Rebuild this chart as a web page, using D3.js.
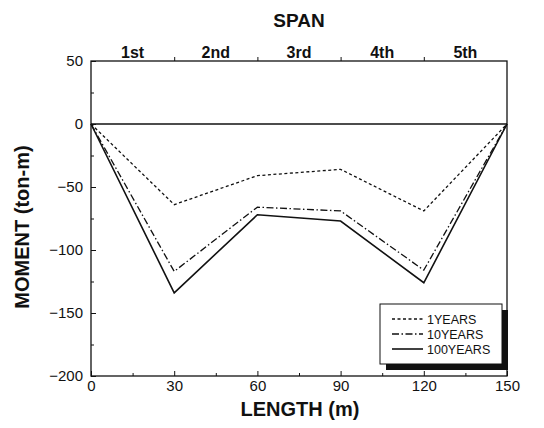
<!DOCTYPE html>
<html><head><meta charset="utf-8">
<script src="https://cdn.jsdelivr.net/npm/d3@7"></script>
<style>body{margin:0;background:#fff}svg{display:block}text{font-family:Arial,"Liberation Sans",sans-serif;fill:#111}</style>
</head><body><div id="chart"></div>
<script>
const lengths = [0, 30, 60, 90, 120, 150];
const years1 = [0, -64, -41, -36, -69, 0];
const years10 = [0, -117, -66, -69, -116, 0];
const years100 = [0, -134, -72, -77, -126, 0];
const seriesNames = ["1YEARS", "10YEARS", "100YEARS"];
const spanLabels = ["1st", "2nd", "3rd", "4th", "5th"];
const xTicks = [0, 30, 60, 90, 120, 150];
const yTicks = [50, 0, -50, -100, -150, -200];

const W = 544, H = 428;
const L = 91, R = 507, T = 61, B = 376;
const svg = d3.select("#chart").append("svg").attr("width", W).attr("height", H);
const x = d3.scaleLinear().domain([0, 150]).range([L, R]);
const y = d3.scaleLinear().domain([-200, 50]).range([B, T]);

// frame
svg.append("rect").attr("x", L).attr("y", T).attr("width", R - L).attr("height", B - T)
  .attr("fill", "none").attr("stroke", "#111").attr("stroke-width", 1.3);

// zero line
svg.append("line").attr("x1", x(0)).attr("x2", x(150)).attr("y1", y(0)).attr("y2", y(0))
  .attr("stroke", "#111").attr("stroke-width", 1.5);

// left axis
const yAxis = d3.axisLeft(y).tickValues(yTicks).tickSize(-5).tickPadding(8).tickFormat(d3.format("d"));
const ga = svg.append("g").attr("transform", `translate(${L},0)`).call(yAxis);
ga.select(".domain").remove();
ga.selectAll("text").style("font-size", "15px");
const yMinor = d3.axisLeft(y).tickValues([25, -25, -75, -125, -175]).tickSize(-3).tickFormat("");
svg.append("g").attr("transform", `translate(${L},0)`).call(yMinor).select(".domain").remove();

// bottom axis
const xAxis = d3.axisBottom(x).tickValues(xTicks).tickSize(-5).tickPadding(4);
const gb = svg.append("g").attr("transform", `translate(0,${B})`).call(xAxis);
gb.select(".domain").remove();
gb.selectAll("text").style("font-size", "15px");
const xMinor = d3.axisBottom(x).tickValues([15, 45, 75, 105, 135]).tickSize(-3).tickFormat("");
svg.append("g").attr("transform", `translate(0,${B})`).call(xMinor).select(".domain").remove();

// top span axis
const xTop = d3.axisTop(x).tickValues([30, 60, 90, 120]).tickSize(4).tickFormat("");
svg.append("g").attr("transform", `translate(0,${T})`).call(xTop).select(".domain").remove();
svg.selectAll(".tick line").attr("stroke", "#111");
svg.append("g").selectAll("text").data(spanLabels).join("text")
  .attr("x", (d, i) => x(i * 30 + 15)).attr("y", 58)
  .attr("text-anchor", "middle").style("font-size", "16px").style("font-weight", "bold").text(d => d);

// titles
svg.append("text").attr("x", (L + R) / 2).attr("y", 27).attr("text-anchor", "middle")
  .style("font-size", "19px").style("font-weight", "bold").text("SPAN");
svg.append("text").attr("x", 300).attr("y", 416).attr("text-anchor", "middle")
  .style("font-size", "20px").style("font-weight", "bold").text("LENGTH (m)");
svg.append("text").attr("transform", `translate(29,227) rotate(-90)`).attr("text-anchor", "middle")
  .style("font-size", "20px").style("font-weight", "bold").text("MOMENT (ton-m)");

// lines
const styles = [
  { data: years1, dash: "3,2.5", w: 1.3 },
  { data: years10, dash: "7,2.5,1.5,2.5", w: 1.3 },
  { data: years100, dash: null, w: 1.6 }
];
const line = d3.line().x((d, i) => x(lengths[i])).y(d => y(d));
styles.forEach(s => {
  svg.append("path").datum(s.data).attr("d", line).attr("fill", "none")
    .attr("stroke", "#111").attr("stroke-width", s.w).attr("stroke-dasharray", s.dash);
});

// legend
const lx = 380, ly = 304, lw = 122, lh = 60;
svg.append("rect").attr("x", lx + 6).attr("y", ly + 6).attr("width", lw).attr("height", lh).attr("fill", "#111");
svg.append("rect").attr("x", lx).attr("y", ly).attr("width", lw).attr("height", lh)
  .attr("fill", "#fff").attr("stroke", "#111").attr("stroke-width", 1);
seriesNames.forEach((n, i) => {
  const yy = ly + 15 + i * 15;
  svg.append("line").attr("x1", lx + 12).attr("x2", lx + 43).attr("y1", yy).attr("y2", yy)
    .attr("stroke", "#111").attr("stroke-width", styles[i].w).attr("stroke-dasharray", styles[i].dash);
  svg.append("text").attr("x", lx + 47).attr("y", yy + 4.5).style("font-size", "12.5px").text(n);
});
</script></body></html>
